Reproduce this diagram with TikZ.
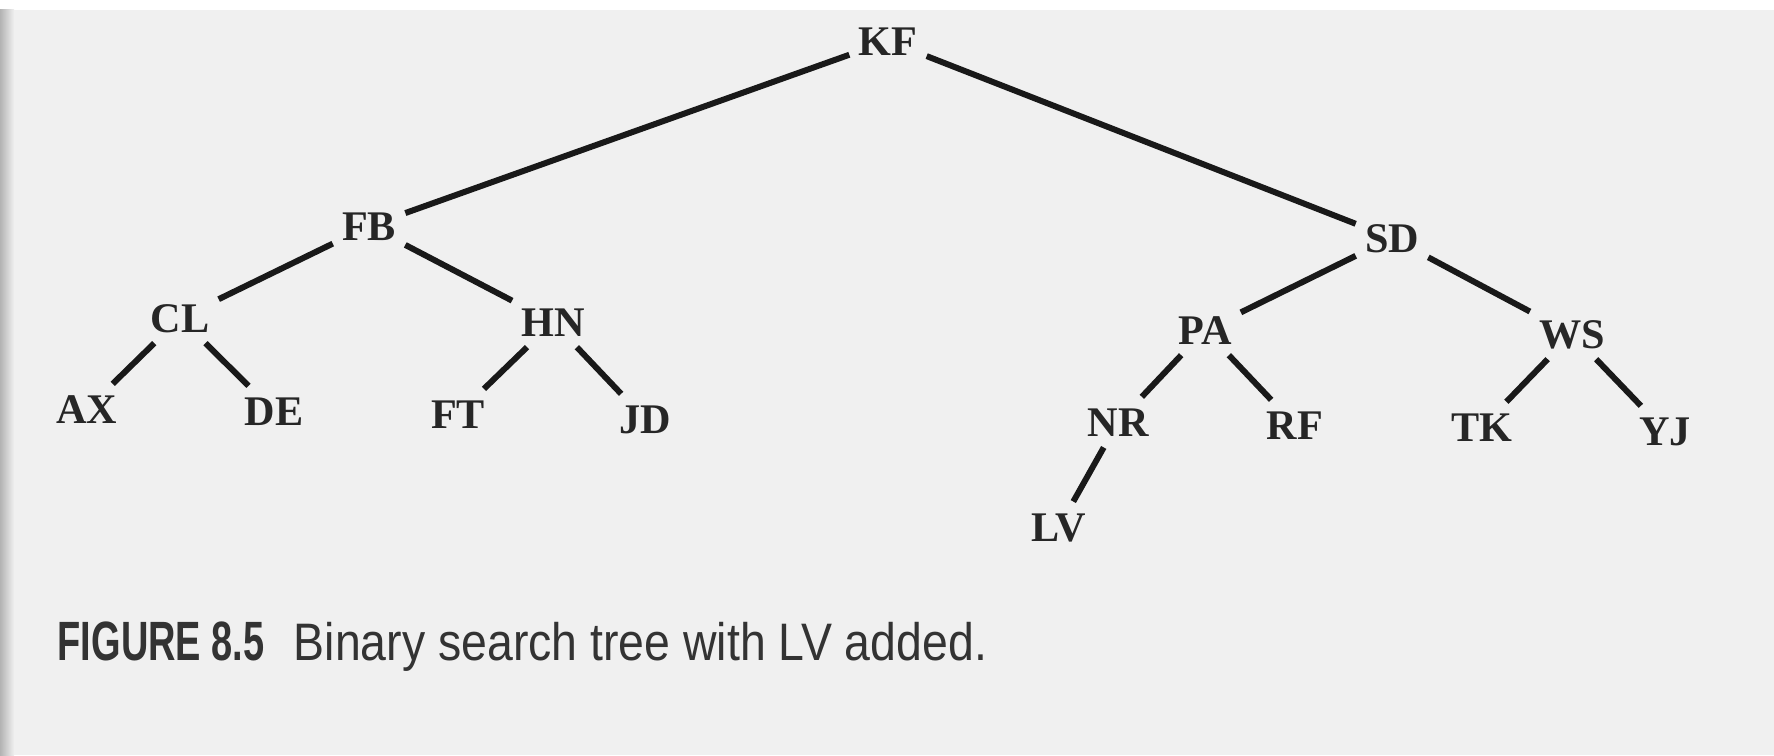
\documentclass[tikz,border=0pt]{standalone}
\usepackage{fontspec}
\setmainfont{Liberation Serif}
\newfontfamily\capfont{Liberation Sans}
\begin{document}
\begin{tikzpicture}[x=0.01cm,y=-0.01cm,
  tn/.style={font=\fontsize{12}{13}\selectfont\bfseries, inner xsep=2pt, inner ysep=2.6pt,
    text height=8pt, text depth=0pt, text=black!85},
  edge/.style={line width=1.7pt, black!90, shorten <=0.5pt, shorten >=0.5pt}]
\useasboundingbox (0,0) rectangle (1774,755);
\fill[black!6] (0,0) rectangle (1774,755);
\fill[white] (0,0) rectangle (1774,10);
\shade[left color=black!30, right color=black!6] (0,10) rectangle (14,755);
\node[tn] (KF) at (888,41) {KF};
\node[tn] (FB) at (369,226) {FB};
\node[tn] (SD) at (1392,238) {SD};
\node[tn] (CL) at (180,318) {CL};
\node[tn] (HN) at (553,322) {HN};
\node[tn] (PA) at (1205,330) {PA};
\node[tn] (WS) at (1572,334) {WS};
\node[tn] (AX) at (87,409) {AX};
\node[tn] (DE) at (274,411) {DE};
\node[tn] (FT) at (458,414) {FT};
\node[tn] (JD) at (645,419) {JD};
\node[tn] (NR) at (1118,422) {NR};
\node[tn] (RF) at (1295,425) {RF};
\node[tn] (TK) at (1482,427) {TK};
\node[tn] (YJ) at (1665,431) {YJ};
\node[tn] (LV) at (1059,527) {LV};
\draw[edge] (KF) -- (FB);
\draw[edge] (KF) -- (SD);
\draw[edge] (FB) -- (CL);
\draw[edge] (FB) -- (HN);
\draw[edge] (CL) -- (AX);
\draw[edge] (CL) -- (DE);
\draw[edge] (HN) -- (FT);
\draw[edge] (HN) -- (JD);
\draw[edge] (SD) -- (PA);
\draw[edge] (SD) -- (WS);
\draw[edge] (PA) -- (NR);
\draw[edge] (PA) -- (RF);
\draw[edge] (WS) -- (TK);
\draw[edge] (WS) -- (YJ);
\draw[edge] (NR) -- (LV);
\node[anchor=base west, inner sep=0pt, text=black!80] (cap) at (57,660)
  {\capfont\fontsize{15}{16}\selectfont\scalebox{0.72}[1.05]{\textbf{FIGURE 8.5}}\ \ \scalebox{0.88}[1]{Binary search tree with LV added.}};
\end{tikzpicture}
\end{document}
